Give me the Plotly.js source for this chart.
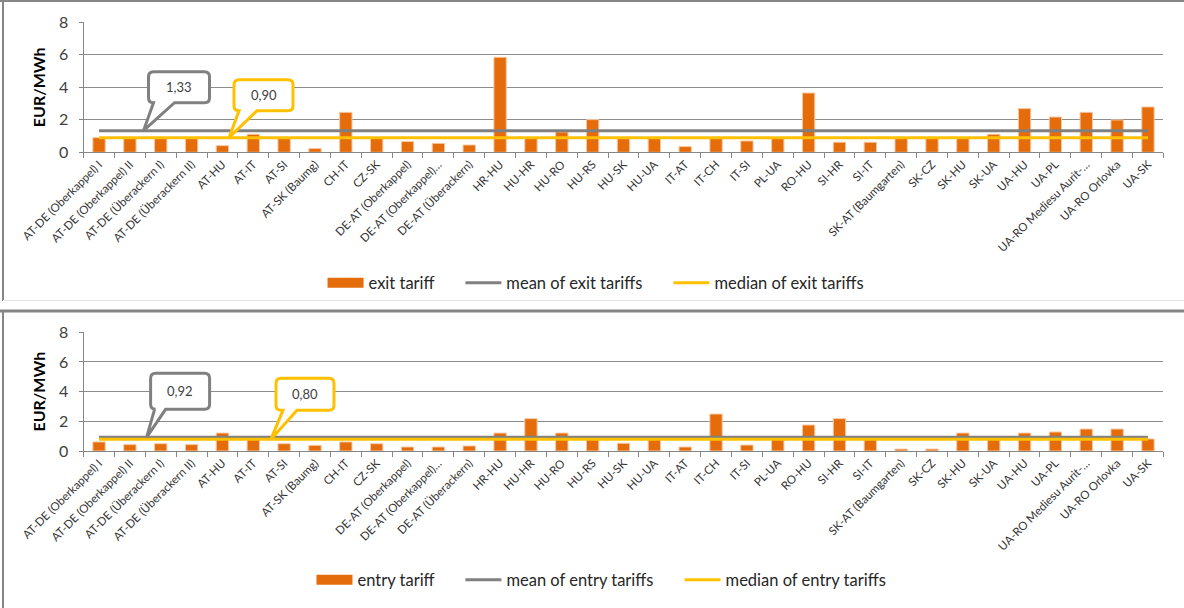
<!DOCTYPE html>
<html>
<head>
<meta charset="utf-8">
<script src="https://cdn.plot.ly/plotly-3.0.1.min.js"></script>
<style>
  html, body { margin: 0; padding: 0; background: #ffffff; }
  #chart { width: 1184px; height: 608px; }
</style>
</head>
<body>
<div id="chart"></div>
<script>
// Interconnection points (shared by both panels)
const crossingPoints = [
  "AT-DE (Oberkappel) I", "AT-DE (Oberkappel) II", "AT-DE (Überackern I)", "AT-DE (Überackern II)",
  "AT-HU", "AT-IT", "AT-SI", "AT-SK (Baumg)", "CH-IT", "CZ-SK",
  "DE-AT (Oberkappel)", "DE-AT (Oberkappel)…", "DE-AT (Überackern)",
  "HR-HU", "HU-HR", "HU-RO", "HU-RS", "HU-SK", "HU-UA",
  "IT-AT", "IT-CH", "IT-SI", "PL-UA", "RO-HU", "SI-HR", "SI-IT",
  "SK-AT (Baumgarten)", "SK-CZ", "SK-HU", "SK-UA",
  "UA-HU", "UA-PL", "UA-RO Mediesu Aurit-…", "UA-RO Orlovka", "UA-SK"
];

// Tariffs in EUR/MWh
const exitTariff = [
  0.90, 0.90, 0.90, 0.90, 0.41, 1.11, 0.90, 0.23, 2.46, 0.90,
  0.66, 0.55, 0.45, 5.85, 0.90, 1.25, 2.01, 0.90, 0.90, 0.35,
  0.90, 0.70, 0.90, 3.65, 0.62, 0.62, 0.90, 0.90, 0.90, 1.11,
  2.69, 2.17, 2.46, 1.99, 2.79
];
const entryTariff = [
  0.61, 0.43, 0.49, 0.43, 1.21, 0.80, 0.49, 0.38, 0.61, 0.49,
  0.27, 0.27, 0.34, 1.21, 2.18, 1.21, 0.85, 0.52, 0.80, 0.27,
  2.49, 0.40, 0.85, 1.75, 2.18, 0.85, 0.13, 0.13, 1.21, 0.85,
  1.21, 1.28, 1.48, 1.48, 0.81
];

// Summary statistics shown as reference lines
const exitMean = 1.33;
const exitMedian = 0.90;
const entryMean = 0.92;
const entryMedian = 0.80;

const seriesNames = {
  exit: ["exit tariff", "mean of exit tariffs", "median of exit tariffs"],
  entry: ["entry tariff", "mean of entry tariffs", "median of entry tariffs"]
};

const FONT = "Lato, 'Open Sans', sans-serif";
const ORANGE = "#E46C0A";
const GREY = "#808080";
const YELLOW = "#FFC000";
const AXIS = "#868686";
const W = 1184, H = 608;

const first = crossingPoints[0];
const last = crossingPoints[crossingPoints.length - 1];
const fmt = v => v.toFixed(2).replace(".", ",");
// extra room after each legend entry
const pad = s => s + "\u00a0\u00a0\u00a0\u00a0\u00a0";

function panelTraces(values, mean, median, names, xa, ya, legendId) {
  return [
    {
      type: "bar", x: crossingPoints, y: values, xaxis: xa, yaxis: ya,
      marker: { color: ORANGE, line: { color: "#F8C7A2", width: 1 } },
      showlegend: false, hoverinfo: "skip"
    },
    // legend swatch for the bars (wide rectangle)
    {
      type: "scatter", mode: "lines", x: [null], y: [null], xaxis: xa, yaxis: ya,
      name: pad(names[0]), line: { color: ORANGE, width: 10 }, legend: legendId
    },
    {
      type: "scatter", mode: "lines", x: [first, last], y: [mean, mean], xaxis: xa, yaxis: ya,
      name: pad(names[1]), line: { color: GREY, width: 3 }, legend: legendId, hoverinfo: "skip"
    },
    {
      type: "scatter", mode: "lines", x: [first, last], y: [median, median], xaxis: xa, yaxis: ya,
      name: names[2], line: { color: YELLOW, width: 3 }, legend: legendId, hoverinfo: "skip"
    }
  ];
}

const data = [
  ...panelTraces(exitTariff, exitMean, exitMedian, seriesNames.exit, "x", "y", "legend"),
  ...panelTraces(entryTariff, entryMean, entryMedian, seriesNames.entry, "x2", "y2", "legend2")
];

const xDomain = [83.6 / W, 1163.4 / W];

function xAxis(anchor) {
  return {
    domain: xDomain, anchor: anchor, type: "category",
    range: [-0.5, crossingPoints.length - 0.5],
    tickangle: -45, ticks: "outside", tickson: "boundaries", ticklen: 5,
    tickcolor: AXIS, showline: true, linecolor: AXIS, linewidth: 1,
    showgrid: false, zeroline: false,
    tickfont: { family: FONT, size: 11.5, color: "#333333" }
  };
}
function yAxis(anchor, domain) {
  return {
    domain: domain, anchor: anchor, range: [0, 8], dtick: 2,
    showgrid: true, gridcolor: "#8C8C8C", gridwidth: 1,
    showline: true, linecolor: AXIS, ticks: "outside", ticklen: 4, tickcolor: AXIS,
    zeroline: false, ticklabelstandoff: 7,
    tickfont: { family: FONT, size: 16, color: "#404040" },
    title: { text: "<b>EUR/MWh</b>", font: { family: FONT, size: 16, color: "#000" }, standoff: 9 }
  };
}

// Speech-bubble callout, path in pixel offsets from its tip (y up)
function bubble(b) {
  const { l, r, bo, t, pl, pr, rad } = b;
  return `M0,0 L${pl},${bo} L${l + rad},${bo} Q${l},${bo} ${l},${bo + rad} ` +
    `L${l},${t - rad} Q${l},${t} ${l + rad},${t} L${r - rad},${t} Q${r},${t} ${r},${t - rad} ` +
    `L${r},${bo + rad} Q${r},${bo} ${r - rad},${bo} L${pr},${bo} Z`;
}

function callout(tipPx, yref, value, color, geom) {
  const shape = {
    type: "path", xref: "paper", yref: yref,
    xsizemode: "pixel", ysizemode: "pixel",
    xanchor: tipPx / W, yanchor: value,
    path: bubble(geom),
    line: { color: color, width: 3 }, fillcolor: "#ffffff", layer: "above"
  };
  const ann = {
    xref: "paper", yref: yref, x: tipPx / W, y: value,
    xanchor: "center", yanchor: "middle",
    xshift: (geom.l + geom.r) / 2, yshift: (geom.bo + geom.t) / 2,
    text: fmt(value), showarrow: false,
    font: { family: FONT, size: 13, color: "#404040" }
  };
  return { shape, ann };
}

const callouts = [
  callout(143.5, "y", exitMean, GREY, { l: 5, r: 66, bo: 28, t: 59, pl: 10, pr: 31, rad: 5 }),
  callout(229, "y", exitMedian, YELLOW, { l: 5, r: 64, bo: 27, t: 58, pl: 10, pr: 28, rad: 5 }),
  callout(146.6, "y2", entryMean, GREY, { l: 4, r: 63, bo: 28, t: 64, pl: 8, pr: 19, rad: 5 }),
  callout(271, "y2", entryMedian, YELLOW, { l: 5, r: 63, bo: 29, t: 61, pl: 12, pr: 26, rad: 5 })
];

// Panel frames
const frames = [
  { type: "line", xref: "paper", yref: "paper", x0: 0, x1: 1, y0: 1 - 1 / H, y1: 1 - 1 / H, line: { color: AXIS, width: 2 } },
  { type: "line", xref: "paper", yref: "paper", x0: 3 / W, x1: 3 / W, y0: 1, y1: 1 - 301 / H, line: { color: AXIS, width: 2 } },
  { type: "line", xref: "paper", yref: "paper", x0: 3 / W, x1: 1, y0: 1 - 300.5 / H, y1: 1 - 300.5 / H, line: { color: "#E4E4E4", width: 1 } },
  { type: "line", xref: "paper", yref: "paper", x0: 0, x1: 1, y0: 1 - 311 / H, y1: 1 - 311 / H, line: { color: AXIS, width: 3 } },
  { type: "line", xref: "paper", yref: "paper", x0: 3 / W, x1: 3 / W, y0: 1 - 311 / H, y1: 0, line: { color: AXIS, width: 2 } }
];

const legendStyle = {
  orientation: "h", xanchor: "center", x: 0.503, yanchor: "middle",
  itemwidth: 36, bgcolor: "rgba(0,0,0,0)",
  font: { family: FONT, size: 16.5, color: "#262626" }
};

const layout = {
  width: W, height: H,
  margin: { l: 0, r: 0, t: 0, b: 0 },
  paper_bgcolor: "#ffffff", plot_bgcolor: "#ffffff",
  bargap: 0.6,
  xaxis: xAxis("y"),
  yaxis: yAxis("x", [1 - 152.3 / H, 1 - 22.3 / H]),
  xaxis2: xAxis("y2"),
  yaxis2: yAxis("x2", [1 - 451 / H, 1 - 332.3 / H]),
  legend: Object.assign({}, legendStyle, { y: 1 - 283 / H }),
  legend2: Object.assign({}, legendStyle, { x: 0.508, y: 1 - 580 / H }),
  shapes: [...frames, ...callouts.map(c => c.shape)],
  annotations: callouts.map(c => c.ann)
};

Plotly.newPlot("chart", data, layout, { displayModeBar: false, staticPlot: true });
</script>
</body>
</html>
